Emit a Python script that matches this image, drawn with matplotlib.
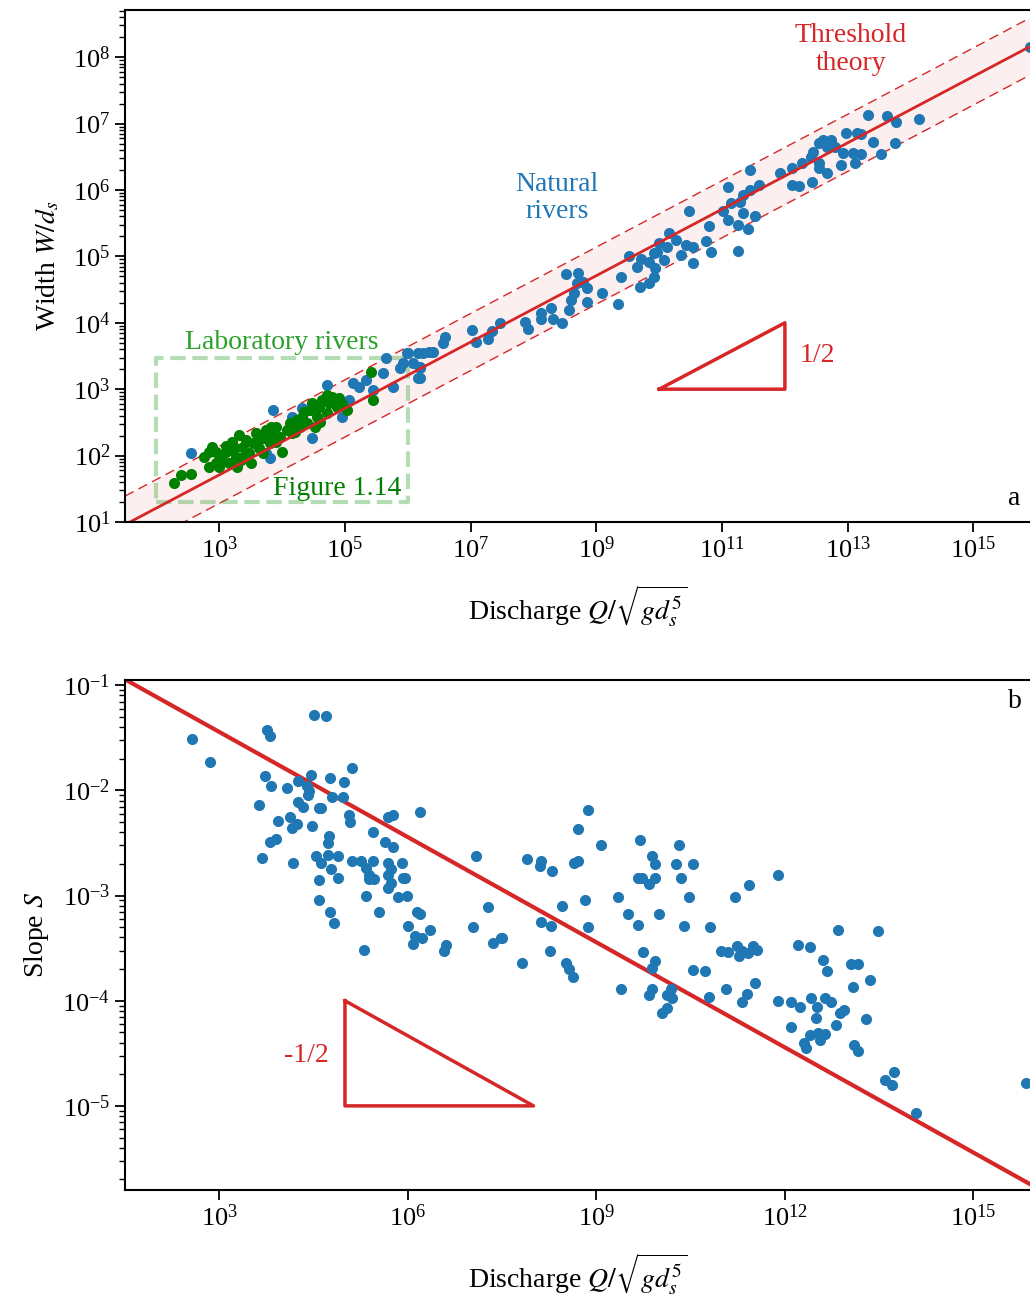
import numpy as np
import matplotlib
matplotlib.use("Agg")
import matplotlib.pyplot as plt
from matplotlib.ticker import LogLocator, NullLocator

plt.rcParams["font.family"] = "serif"
plt.rcParams["font.serif"] = ["Liberation Serif", "DejaVu Serif"]
plt.rcParams["mathtext.fontset"] = "stix"

BLUE = "#1f77b4"
RED = "#d62728"
LGREEN = "#2ca02c"
DGREEN = "#008000"

# (a) natural rivers: log10 of dimensionless discharge and width
nat_logq = [15.90, 13.32, 13.62, 13.77, 14.13, 12.98, 13.14, 13.21, 12.60, 12.73,
            12.54, 12.67, 12.79, 13.40, 13.75, 12.44, 12.92, 13.08, 13.21, 13.53,
            12.41, 12.28, 12.54, 13.11, 12.89, 12.54, 12.67, 12.12, 11.93, 12.43,
            12.12, 12.23, 11.45, 11.09, 11.58, 11.45, 11.34, 11.29, 11.15, 11.01,
            11.09, 11.34, 11.52, 11.25, 11.42, 10.48, 10.80, 11.25, 10.83, 10.75,
            10.54, 10.42, 10.35, 10.54, 10.15, 10.26, 10.13, 10.00, 9.97, 10.07,
            9.91, 9.84, 9.71, 9.52, 9.65, 9.94, 9.91, 9.83, 9.70, 9.40,
            9.09, 9.35, 8.85, 8.85, 8.79, 8.69, 8.71, 8.52, 8.65, 8.60,
            8.57, 8.45, 8.28, 8.31, 8.12, 8.12, 7.86, 7.91, 7.47, 7.34,
            7.27, 7.02, 7.08, 6.59, 6.56, 6.33, 6.16, 6.00, 5.93, 6.19,
            6.16, 2.55, 3.85, 4.71, 4.31, 4.16, 4.47, 3.75, 3.80, 4.80,
            4.96, 5.07, 5.12, 5.23, 5.34, 5.44, 5.60, 5.66, 5.76, 5.87,
            5.98, 6.08, 6.19, 6.24, 6.40, 6.19]
nat_logw = [8.15, 7.13, 7.11, 7.02, 7.07, 6.86, 6.86, 6.84, 6.75, 6.75,
            6.71, 6.65, 6.65, 6.72, 6.71, 6.57, 6.56, 6.56, 6.54, 6.54,
            6.50, 6.41, 6.41, 6.41, 6.38, 6.33, 6.26, 6.33, 6.26, 6.12,
            6.08, 6.06, 6.30, 6.05, 6.08, 6.00, 5.92, 5.82, 5.80, 5.68,
            5.55, 5.65, 5.61, 5.47, 5.41, 5.68, 5.46, 5.08, 5.07, 5.23,
            5.14, 5.17, 5.02, 4.90, 5.35, 5.25, 5.14, 5.20, 5.07, 4.95,
            5.05, 4.92, 4.96, 5.01, 4.84, 4.83, 4.69, 4.60, 4.54, 4.69,
            4.45, 4.28, 4.31, 4.52, 4.61, 4.60, 4.75, 4.73, 4.45, 4.34,
            4.19, 4.00, 4.22, 4.06, 4.15, 4.06, 4.01, 3.91, 4.00, 3.88,
            3.76, 3.89, 3.71, 3.79, 3.70, 3.56, 3.55, 3.55, 3.39, 3.32,
            3.17, 2.04, 2.69, 3.06, 2.72, 2.58, 2.27, 2.04, 1.96, 2.84,
            2.58, 2.84, 3.09, 3.03, 3.14, 2.99, 3.24, 3.47, 3.03, 3.32,
            3.55, 3.39, 3.17, 3.55, 3.56, 3.33]

# (a) laboratory rivers
lab_logq = [2.28, 2.39, 2.55, 2.76, 2.84, 2.89, 2.95, 3.00, 3.05, 3.11,
            3.16, 3.21, 3.27, 3.32, 3.37, 3.43, 3.48, 3.53, 3.59, 3.64,
            3.69, 3.75, 3.80, 3.85, 3.91, 3.96, 4.00, 4.07, 4.12, 4.16,
            4.23, 4.28, 4.32, 4.39, 4.44, 4.48, 4.55, 4.59, 4.64, 4.71,
            4.75, 4.80, 4.87, 4.91, 5.03, 5.42, 5.44, 3.00, 2.84, 3.29,
            3.51, 3.69, 3.21, 3.35, 4.52, 4.71, 3.83, 3.10, 3.40, 3.60,
            3.90, 4.20, 4.35, 4.60, 4.95, 2.95, 3.25]
lab_logw = [1.59, 1.71, 1.72, 1.98, 2.05, 2.13, 1.89, 2.01, 1.93, 2.05,
            1.89, 2.08, 1.98, 2.31, 2.13, 2.23, 2.04, 2.19, 2.34, 2.11,
            2.27, 2.39, 2.19, 2.31, 2.43, 2.28, 2.05, 2.39, 2.49, 2.34,
            2.54, 2.43, 2.58, 2.49, 2.69, 2.79, 2.58, 2.73, 2.84, 2.64,
            2.79, 2.88, 2.73, 2.87, 2.69, 3.26, 2.84, 1.83, 1.83, 1.83,
            1.89, 2.04, 2.20, 1.93, 2.43, 2.91, 2.43, 2.15, 2.00, 2.20,
            2.20, 2.35, 2.65, 2.50, 2.78, 2.05, 2.12]

# (b) slope of natural rivers
slope_logq = [2.57, 2.86, 3.76, 3.81, 4.51, 4.70, 3.73, 3.82, 4.08, 4.25,
              4.46, 4.39, 4.43, 4.41, 4.76, 4.98, 5.11, 4.79, 4.97, 3.63,
              4.25, 4.33, 4.58, 4.62, 3.94, 4.13, 4.24, 4.16, 4.47, 5.06,
              5.08, 5.68, 5.76, 6.19, 5.44, 4.74, 4.73, 3.90, 3.81, 5.63,
              5.76, 3.68, 4.17, 4.54, 4.62, 4.73, 4.89, 4.77, 4.58, 4.89,
              5.11, 5.25, 5.33, 5.44, 5.38, 5.38, 5.46, 5.68, 5.73, 5.68,
              5.90, 5.92, 5.96, 5.73, 5.68, 5.33, 5.84, 5.98, 4.58, 4.76,
              4.82, 5.54, 6.15, 6.20, 6.01, 6.36, 6.12, 6.09, 6.23, 6.60,
              6.57, 7.09, 7.28, 7.03, 7.36, 7.49, 5.31,
              8.86, 8.71, 9.07, 9.70, 10.31, 7.90, 8.12, 8.10, 8.29, 8.64,
              8.71, 9.88, 9.93, 10.26, 10.53, 9.67, 9.72, 9.94, 9.83, 10.35,
              11.89, 11.43, 11.21, 10.48, 9.34, 8.45, 8.82, 9.51, 9.99, 9.66,
              10.40, 10.81, 8.86, 8.12, 8.28, 7.50, 8.26, 7.82, 8.52, 8.56,
              8.63, 9.74, 9.93, 9.89, 9.40, 9.89, 9.83, 10.18, 10.12, 10.20,
              10.13, 10.04, 10.54, 10.73, 10.99, 11.10, 11.24, 11.32, 11.42, 11.49,
              11.56, 11.27, 10.80, 11.07, 11.40, 11.32, 11.53, 12.21, 12.40, 12.60,
              12.67, 12.84, 13.48, 13.05, 13.16, 13.36, 13.08, 11.89, 12.10, 12.24,
              12.41, 12.51, 12.64, 12.73, 12.49, 12.87, 12.94, 12.81, 13.29, 12.10,
              12.30, 12.40, 12.52, 12.64, 12.56, 12.33, 13.10, 13.17, 13.60, 13.73,
              13.71, 14.09, 15.84]
slope_logs = [-1.51, -1.73, -1.43, -1.48, -1.28, -1.29, -1.86, -1.96, -1.98, -1.91,
              -1.85, -1.96, -2.01, -2.04, -1.88, -1.92, -1.79, -2.06, -2.06, -2.14,
              -2.11, -2.16, -2.17, -2.17, -2.29, -2.25, -2.32, -2.36, -2.34, -2.23,
              -2.30, -2.25, -2.23, -2.21, -2.40, -2.43, -2.50, -2.46, -2.49, -2.49,
              -2.54, -2.64, -2.69, -2.62, -2.69, -2.61, -2.62, -2.75, -2.85, -2.83,
              -2.67, -2.67, -2.74, -2.67, -2.80, -2.84, -2.84, -2.69, -2.75, -2.80,
              -2.69, -2.83, -2.83, -2.88, -2.93, -3.00, -3.01, -3.00, -3.04, -3.16,
              -3.26, -3.16, -3.16, -3.18, -3.29, -3.33, -3.38, -3.46, -3.40, -3.47,
              -3.53, -2.62, -3.11, -3.30, -3.45, -3.40, -3.52,
              -2.19, -2.37, -2.52, -2.47, -2.52, -2.65, -2.67, -2.72, -2.77, -2.69,
              -2.67, -2.62, -2.70, -2.70, -2.70, -2.83, -2.83, -2.83, -2.89, -2.83,
              -2.80, -2.90, -3.01, -3.01, -3.01, -3.10, -3.04, -3.18, -3.18, -3.28,
              -3.29, -3.30, -3.30, -3.25, -3.29, -3.40, -3.53, -3.64, -3.64, -3.70,
              -3.77, -3.54, -3.62, -3.69, -3.89, -3.89, -3.95, -3.89, -3.95, -3.97,
              -4.07, -4.12, -3.71, -3.72, -3.53, -3.54, -3.48, -3.53, -3.55, -3.48,
              -3.52, -3.57, -3.96, -3.89, -3.94, -4.01, -3.83, -3.47, -3.49, -3.61,
              -3.72, -3.33, -3.34, -3.65, -3.65, -3.80, -3.87, -4.00, -4.01, -4.06,
              -3.97, -4.06, -3.97, -4.01, -4.16, -4.12, -4.09, -4.23, -4.17, -4.25,
              -4.40, -4.33, -4.31, -4.32, -4.37, -4.45, -4.42, -4.48, -4.75, -4.68,
              -4.80, -5.07, -4.78]

# threshold theory: W = a Q^(1/2), S = b Q^(-1/3)
width_coef = 10 ** 0.21
width_spread = 10 ** 0.43
slope_coef = 10 ** -0.444
q_lim = (10 ** 1.5, 10 ** 15.9)

TXT = 20

fig = plt.figure(figsize=(10.30, 12.98), dpi=100)
ax1 = fig.add_axes([125 / 1030, 1 - 522 / 1298, 905 / 1030, 512 / 1298])
ax2 = fig.add_axes([125 / 1030, 1 - 1190 / 1298, 905 / 1030, 510 / 1298])

qq = np.logspace(1.5, 15.9, 200)
w_th = width_coef * qq ** 0.5
ax1.fill_between(qq, w_th / width_spread, w_th * width_spread, color=RED, alpha=0.07, lw=0)
ax1.plot(qq, w_th * width_spread, color=RED, lw=1, dashes=(7, 4))
ax1.plot(qq, w_th / width_spread, color=RED, lw=1, dashes=(7, 4))
ax1.plot([1e2, 1e6, 1e6, 1e2, 1e2], [20, 20, 3e3, 3e3, 20], ls="--", color=LGREEN,
         alpha=0.35, lw=3)
ax1.plot(10 ** np.array(nat_logq), 10 ** np.array(nat_logw), "o", color=BLUE, ms=8, mew=0)
ax1.plot(10 ** np.array(lab_logq), 10 ** np.array(lab_logw), "o", color=DGREEN, ms=8, mew=0)
ax1.plot(qq, w_th, color=RED, lw=2)
ax1.plot([1e10, 1e12, 1e12, 1e10], [1e3, 1e3, 1e4, 1e3], color=RED, lw=2.5)

ax1.text(10 ** 13.05, 10 ** 8.12, "Threshold\ntheory", color=RED, fontsize=TXT,
         ha="center", va="center", linespacing=1.15)
ax1.text(10 ** 8.37, 10 ** 5.88, "Natural\nrivers", color=BLUE, fontsize=TXT,
         ha="center", va="center", linespacing=1.15)
ax1.text(10 ** 4.0, 10 ** 3.71, "Laboratory rivers", color=LGREEN, fontsize=TXT,
         ha="center", va="center")
ax1.text(10 ** 4.88, 10 ** 1.5, "Figure 1.14", color=DGREEN, fontsize=TXT,
         ha="center", va="center")
ax1.text(10 ** 12.51, 10 ** 3.51, "1/2", color=RED, fontsize=TXT, ha="center", va="center")
ax1.text(0.983, 0.045, "a", transform=ax1.transAxes, fontsize=TXT, ha="center", va="center")

ax1.set_xscale("log")
ax1.set_yscale("log")
ax1.set_xlim(*q_lim)
ax1.set_ylim(10, 10 ** 8.71)
ax1.set_xticks([1e3, 1e5, 1e7, 1e9, 1e11, 1e13, 1e15])
ax1.xaxis.set_minor_locator(NullLocator())
ax1.set_ylabel(r"Width $W/d_s$", fontsize=TXT, labelpad=8)
ax1.set_xlabel(r"Discharge $Q/\sqrt{g d_s^5}$", fontsize=TXT, labelpad=15)

s_th = slope_coef * qq ** (-1 / 3)
ax2.plot(qq, s_th, color=RED, lw=3)
ax2.plot(10 ** np.array(slope_logq), 10 ** np.array(slope_logs), "o", color=BLUE, ms=8, mew=0)
ax2.plot([1e5, 1e5, 1e8, 1e5], [1e-4, 1e-5, 1e-5, 1e-4], color=RED, lw=2.5)
ax2.text(10 ** 4.39, 10 ** -4.52, "-1/2", color=RED, fontsize=TXT, ha="center", va="center")
ax2.text(0.983, 0.957, "b", transform=ax2.transAxes, fontsize=TXT, ha="center", va="center")

ax2.set_xscale("log")
ax2.set_yscale("log")
ax2.set_xlim(*q_lim)
ax2.set_ylim(10 ** -5.8, 10 ** -0.95)
ax2.set_xticks([1e3, 1e6, 1e9, 1e12, 1e15])
ax2.xaxis.set_minor_locator(NullLocator())
ax2.set_ylabel(r"Slope $S$", fontsize=TXT, labelpad=8)
ax2.set_xlabel(r"Discharge $Q/\sqrt{g d_s^5}$", fontsize=TXT, labelpad=15)

for ax in (ax1, ax2):
    ax.yaxis.set_major_locator(LogLocator(base=10, numticks=20))
    ax.yaxis.set_minor_locator(LogLocator(base=10, subs=np.arange(2, 10), numticks=20))
    ax.spines["right"].set_visible(False)
    for sp in ("left", "bottom", "top"):
        ax.spines[sp].set_linewidth(1.5)
    ax.tick_params(which="major", length=7, width=1.3, labelsize=19)
    ax.tick_params(which="minor", length=4, width=1.0)

fig.savefig("out.png", dpi=100)
